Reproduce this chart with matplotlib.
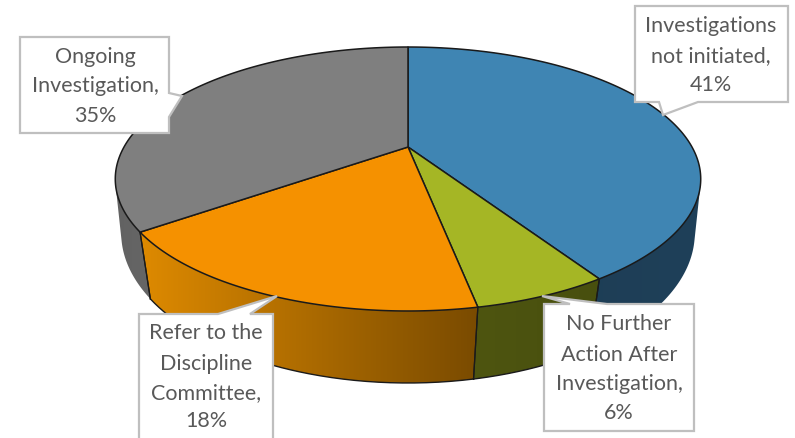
import numpy as np
import matplotlib
matplotlib.use("Agg")
import matplotlib.pyplot as plt
from matplotlib.patches import Polygon
from matplotlib.colors import LinearSegmentedColormap

# Slice values, clockwise from twelve o'clock
categories = ["Investigations\nnot initiated,", "No Further\nAction After\nInvestigation,",
              "Refer to the\nDiscipline\nCommittee,", "Ongoing\nInvestigation,"]
values = [41, 6, 18, 35]
top_colors = ["#3f85b3", "#a5b625", "#f59100", "#7f7f7f"]

# left/right shades of the outer wall for each slice
wall_colors = [("#1c3b52", "#1f4059"), ("#4e5510", "#484f0e"),
               ("#de8a00", "#7a4b00"), ("#626262", "#858585")]

# perspective of the disc: top face and bottom face of the cylinder
CX = 408
TOP = dict(a=284, y0=147, b=88.6, k=-0.2424)
BOT = dict(a=281, y0=203, b=103.4, k=-0.2)


def project(theta, f):
    u, v = np.sin(theta), -np.cos(theta)
    d = 1 + f["k"] * v
    return CX + f["a"] * u / d, (f["y0"] + f["b"] * v) / d


def hull(pts):
    # monotone chain, keeps the sides of the disc free of notches
    pts = sorted(set(map(tuple, pts)))

    def half(seq):
        out = []
        for p in seq:
            while len(out) > 1 and ((out[-1][0] - out[-2][0]) * (p[1] - out[-2][1])
                                    - (out[-1][1] - out[-2][1]) * (p[0] - out[-2][0])) <= 0:
                out.pop()
            out.append(p)
        return out[:-1]

    return np.array(half(pts) + half(pts[::-1]))


fig = plt.figure(figsize=(7.95, 4.38), dpi=100)
ax = fig.add_axes([0, 0, 1, 1])
ax.axis("off")

edges = np.cumsum([0] + values) / sum(values) * 2 * np.pi

# outer wall, the orange and green ones get a dark lower edge
for i in [3, 0, 2, 1]:
    th = np.linspace(edges[i], edges[i + 1], 200)
    tx, ty = project(th, TOP)
    bx, by = project(th, BOT)
    xs = np.r_[tx, bx[::-1]]
    ys = np.r_[ty, by[::-1]]
    outline = np.c_[xs, ys]
    if i in (0, 3):
        outline = hull(outline)
    poly = Polygon(outline, closed=True, fc="none", ec="none")
    ax.add_patch(poly)
    cmap = LinearSegmentedColormap.from_list("wall", wall_colors[i])
    grad = ax.imshow(np.linspace(0, 1, 256).reshape(1, -1), cmap=cmap, aspect="auto",
                     extent=[xs.min(), xs.max(), ys.max(), ys.min()], zorder=1)
    grad.set_clip_path(poly)
    if i in (1, 2):
        ax.plot(bx, by, color="#1a1a1a", lw=1, zorder=2)
    for t in (edges[i], edges[i + 1]):
        p, q = project(t, TOP), project(t, BOT)
        if 2.0 < t < 4.3:
            ax.plot([p[0], q[0]], [p[1], q[1]], color="#1a1a1a", lw=0.9, zorder=2)

ax.set_xlim(0, 795)
ax.set_ylim(438, 0)

# top face
for i in range(4):
    th = np.linspace(edges[i], edges[i + 1], 200)
    tx, ty = project(th, TOP)
    pts = np.r_[[[CX, TOP["y0"]]], np.c_[tx, ty]]
    ax.add_patch(Polygon(pts, closed=True, fc=top_colors[i], ec="#1a1a1a", lw=1.1,
                         joinstyle="round", zorder=3))


def callout(box, pointer, side, lines, cx, ys):
    x0, y0, x1, y1 = box
    if side == "right":
        pts = [(x0, y0), (x1, y0), pointer[0], pointer[1], pointer[2], (x1, y1), (x0, y1)]
    elif side == "top":
        pts = [(x0, y0), pointer[0], pointer[1], pointer[2], (x1, y0), (x1, y1), (x0, y1)]
    else:
        pts = [(x0, y0), (x1, y0), (x1, y1), pointer[2], pointer[1], pointer[0], (x0, y1)]
    ax.add_patch(Polygon(pts, closed=True, fc="white", ec="#bfbfbf", lw=1.6, zorder=5,
                         joinstyle="miter"))
    for line, y in zip(lines, ys):
        ax.text(cx, y, line, ha="center", va="center", fontsize=15.5, color="#595959",
                family=["Lato", "DejaVu Sans"], zorder=6)


def label(i):
    return categories[i].split("\n") + [f"{values[i]}%"]


callout((635, 6, 788, 102), [(659, 102), (663, 115), (698, 102)], "bottom", label(0), 711, [26, 56, 85])
callout((544, 304, 694, 431), [(570, 304), (542, 296), (607, 304)], "top", label(1), 619, [324, 355, 384, 413])
callout((139, 314, 273, 445), [(218, 314), (277, 296), (250, 314)], "top", label(2), 206, [333, 364, 393, 421])
callout((20, 37, 169, 133), [(169, 93), (182, 96), (169, 117)], "right", label(3), 95, [57, 86, 116])

fig.savefig("out.png", dpi=100)
